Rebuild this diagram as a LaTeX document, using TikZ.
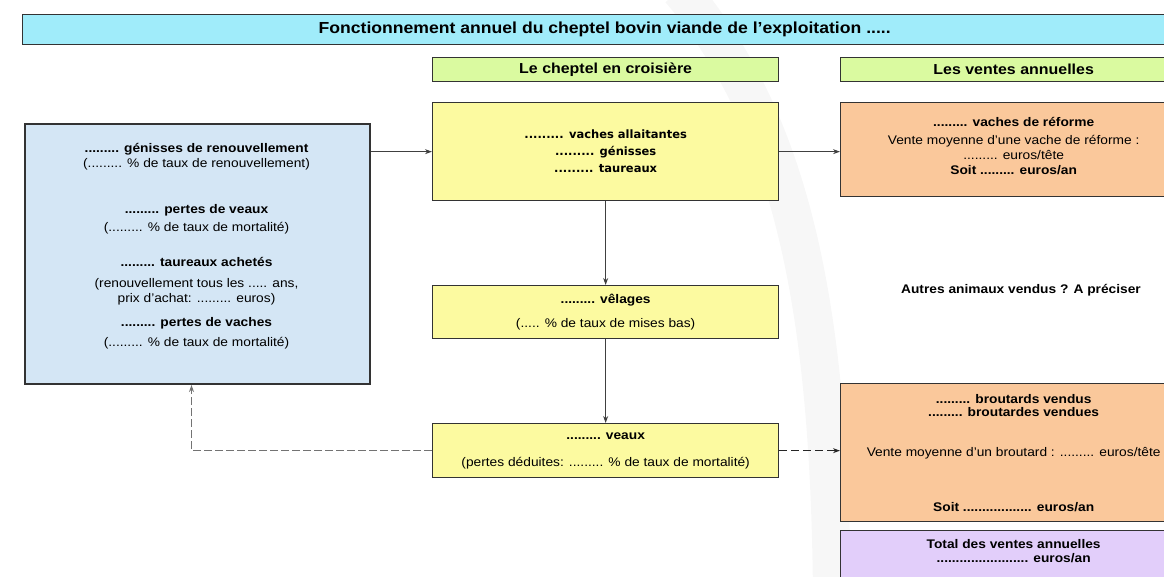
\documentclass[tikz,border=0pt]{standalone}
\usepackage{fontspec}
\setmainfont{Liberation Sans}[FakeStretch=1.1]
\newfontfamily\dejavu{DejaVu Sans}
\usetikzlibrary{arrows.meta,positioning}

\definecolor{titrebleu}{RGB}{160,236,250}
\definecolor{vertclair}{RGB}{218,250,160}
\definecolor{bleuclair}{RGB}{212,230,245}
\definecolor{jaune}{RGB}{252,250,160}
\definecolor{saumon}{RGB}{250,200,155}
\definecolor{lilas}{RGB}{226,206,250}

\newcommand{\pointilles}{.........}

\tikzset{
  cadre/.style={draw=black!80, line width=1.3pt, inner sep=0pt, anchor=north west, align=center,
    font=\fontsize{12.5}{15}\selectfont},
  bandeau/.style={cadre, fill=titrebleu, font=\fontsize{16}{18}\selectfont\bfseries},
  entete/.style={cadre, fill=vertclair, minimum width=346pt, minimum height=24pt,
    font=\fontsize{14.5}{16}\selectfont\bfseries},
  texte/.style={align=center, inner sep=0pt, font=\fontsize{12.5}{15}\selectfont},
  fleche/.style={-{Stealth[length=7pt,width=5pt]}, draw=black!75, line width=0.9pt},
  retour/.style={fleche, dash pattern=on 8pt off 3pt, draw=black!55, line width=1.2pt},
  vente/.style={fleche, dash pattern=on 8pt off 4pt, draw=black!85, line width=1.5pt},
}

\begin{document}
\begin{tikzpicture}[x=1pt,y=-1pt]
    \useasboundingbox (0,0) rectangle (1164,576);

    % Filigrane en fond
    \draw[black!3, line width=38pt] (680,-10) .. controls (790,120) and (830,300) .. (832,600);

    % Bandeau du titre
    \node[bandeau, minimum width=1164pt, minimum height=30pt] (titre) at (22,14)
        {Fonctionnement annuel du cheptel bovin viande de l'exploitation .....};

    % En-tetes des colonnes
    \node[entete] (croisiere) at (432,57) {Le cheptel en croisière};
    \node[entete] (ventes) at (840,57) {Les ventes annuelles};

    % Colonne de gauche : entrees et pertes
    \node[cadre, fill=bleuclair, line width=2pt, minimum width=345pt, minimum height=260pt] (entrees) at (24,123) {};
    \node[texte] (entreestxt) at (196.5,246) {%
        {\bfseries\pointilles{} génisses de renouvellement}\\
        (\pointilles{} \% de taux de renouvellement)\\[31pt]
        {\bfseries\pointilles{} pertes de veaux}\\[3pt]
        (\pointilles{} \% de taux de mortalité)\\[20pt]
        {\bfseries\pointilles{} taureaux achetés}\\[6pt]
        (renouvellement tous les ..... ans,\\
        prix d'achat: \pointilles{} euros)\\[9pt]
        {\bfseries\pointilles{} pertes de vaches}\\[5pt]
        (\pointilles{} \% de taux de mortalité)};

    % Colonne du milieu : le cheptel
    \node[cadre, fill=jaune, minimum width=346pt, minimum height=98pt,
          font=\dejavu\bfseries\fontsize{11.5}{17}\selectfont] (cheptel) at (432,102)
        {\pointilles{} vaches allaitantes\\ \pointilles{} génisses\\ \pointilles{} taureaux};
    \node[cadre, fill=jaune, minimum width=346pt, minimum height=53pt] (velages) at (432,285)
        {{\bfseries\pointilles{} vêlages}\\[9pt] (..... \% de taux de mises bas)};
    \node[cadre, fill=jaune, minimum width=346pt, minimum height=54pt] (veaux) at (432,423)
        {{\bfseries\pointilles{} veaux}\\[12pt] (pertes déduites: \pointilles{} \% de taux de mortalité)};

    % Colonne de droite : les ventes
    \node[cadre, fill=saumon, minimum width=346pt, minimum height=94pt] (reforme) at (840,102)
        {{\bfseries\pointilles{} vaches de réforme}\\[3pt]
         Vente moyenne d'une vache de réforme :\\
         \pointilles{} euros/tête\\
         {\bfseries Soit \pointilles{} euros/an}\\[-7pt]\mbox{}};
    \node[texte, font=\fontsize{12.5}{15}\selectfont\bfseries] (autres) at (1021,290)
        {Autres animaux vendus ? A préciser};
    \node[cadre, fill=saumon, minimum width=346pt, minimum height=138pt] (broutards) at (840,383)
        {{\bfseries\pointilles{} broutards vendus}\\[-2pt]
         {\bfseries\pointilles{} broutardes vendues}\\[25pt]
         Vente moyenne d'un broutard : \pointilles{} euros/tête\\[40pt]
         {\bfseries Soit .................. euros/an}};
    \node[cadre, fill=lilas, minimum width=346pt, minimum height=50pt, font=\fontsize{12.5}{14}\selectfont\bfseries] (total) at (840,530)
        {Total des ventes annuelles\\ ........................ euros/an\\[-5pt]\mbox{}};

    % Fleches
    \draw[fleche] (entrees.east |- cheptel.west) -- (cheptel.west);
    \draw[fleche] (cheptel.east) -- (cheptel.east -| reforme.west);
    \draw[fleche] (cheptel) -- (velages);
    \draw[fleche] (velages) -- (veaux);
    \draw[vente] (veaux.east) -- (veaux.east -| broutards.west);
    \draw[retour] (veaux.west) -| ([xshift=-6pt]entrees.south);
\end{tikzpicture}
\end{document}
